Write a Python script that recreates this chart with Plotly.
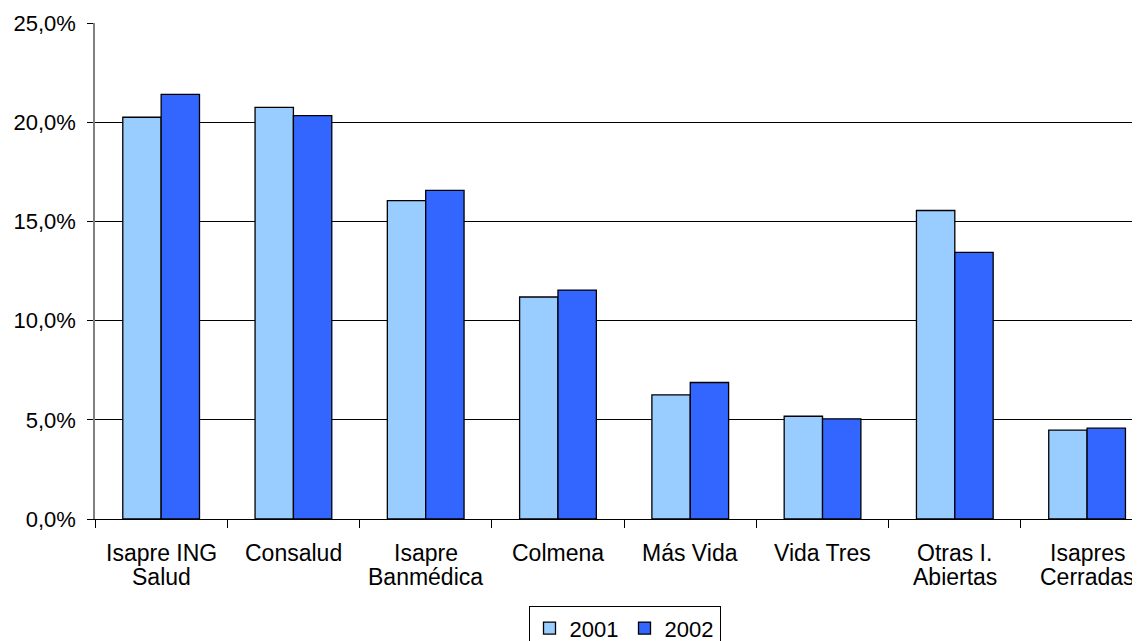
import plotly.graph_objects as go

categories = ["Isapre ING<br>Salud", "Consalud", "Isapre<br>Banmédica", "Colmena",
              "Más Vida", "Vida Tres", "Otras I.<br>Abiertas", "Isapres<br>Cerradas"]
vals_2001 = [20.25, 20.75, 16.05, 11.19, 6.26, 5.18, 15.55, 4.48]
vals_2002 = [21.40, 20.33, 16.56, 11.54, 6.88, 5.05, 13.44, 4.58]
y_ticks = [0, 5, 10, 15, 20, 25]
y_tick_labels = ["0,0%", "5,0%", "10,0%", "15,0%", "20,0%", "25,0%"]

FONT = "Liberation Sans, Arial, sans-serif"
LABEL_SIZE = 23

fig = go.Figure()
fig.add_trace(go.Bar(x=categories, y=vals_2001, name="2001",
                     marker=dict(color="#99CCFF", line=dict(color="#000000", width=1.3))))
fig.add_trace(go.Bar(x=categories, y=vals_2002, name="2002",
                     marker=dict(color="#3366FF", line=dict(color="#000000", width=1.3))))

# category labels, one annotation per text line (tight line spacing like the original)
annotations = []
for cat in categories:
    for i, line in enumerate(cat.split("<br>")):
        annotations.append(dict(
            x=cat, xref="x", y=0, yref="paper", yanchor="top", xanchor="center",
            text=line, showarrow=False, yshift=-(19 + 24 * i),
            font=dict(family=FONT, size=LABEL_SIZE, color="black"),
        ))

# page body has an 8px margin, so the figure is sized to end at the window edge
fig.update_layout(
    width=1132, height=633,
    margin=dict(l=87, r=0, t=15, b=122, autoexpand=False),
    paper_bgcolor="white", plot_bgcolor="white",
    barmode="group", bargap=0.42, bargroupgap=0,
    font=dict(family=FONT, size=22, color="black"),
    showlegend=True,
    legend=dict(orientation="h", x=0.5067, xanchor="center", y=-0.176, yanchor="top",
                bordercolor="black", borderwidth=1, bgcolor="white",
                font=dict(size=22), itemwidth=30, entrywidth=50),
    annotations=annotations,
)
fig.update_xaxes(
    type="category", range=[-0.5, 7.40], automargin=False,
    showline=True, linecolor="black", linewidth=1,
    ticks="outside", tickson="boundaries", ticklen=8, tickcolor="black",
    showticklabels=False, showgrid=False,
)
fig.update_yaxes(
    range=[0, 25], tickvals=y_ticks, ticktext=y_tick_labels, automargin=False,
    showline=True, linecolor="#808080", linewidth=1.5,
    ticks="outside", ticklen=6, tickcolor="black",
    showgrid=True, gridcolor="#000000", gridwidth=1,
    zeroline=False, ticklabelstandoff=7,
    tickfont=dict(size=22),
)

fig.write_html("out.html")
